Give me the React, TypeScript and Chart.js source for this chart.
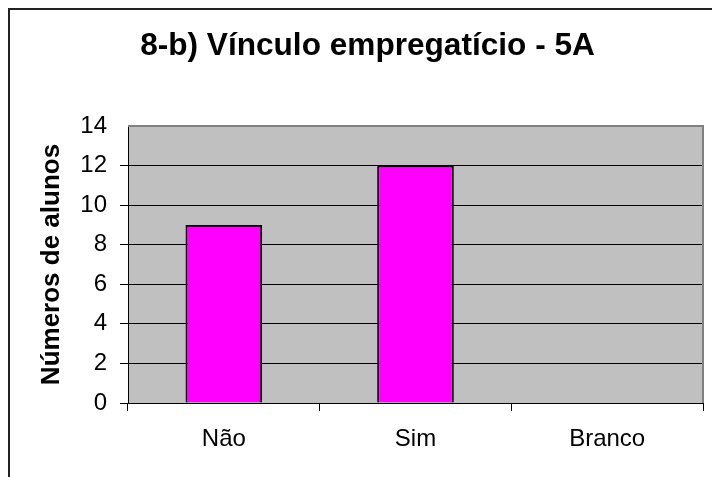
import React, { useEffect, useRef } from "react";
import { Chart, registerables } from "chart.js";

Chart.register(...registerables);

const titleText = "8-b) Vínculo empregatício - 5A";
const yAxisTitle = "Números de alunos";
const categories = ["Não", "Sim", "Branco"];
const values = [9, 12, 0];
const yMin = 0;
const yMax = 14;
const yStep = 2;

const FONT = "'Liberation Sans', Arial, Helvetica, sans-serif";

const decorPlugin = {
  id: "decor",
  beforeDraw(chart: any) {
    const { ctx, chartArea } = chart;
    ctx.save();
    ctx.fillStyle = "#ffffff";
    ctx.fillRect(0, 0, chart.width, chart.height);
    // outer frame (left and top)
    ctx.strokeStyle = "#222222";
    ctx.lineWidth = 2;
    ctx.beginPath();
    ctx.moveTo(9, chart.height);
    ctx.lineTo(9, 9);
    ctx.lineTo(chart.width, 9);
    ctx.stroke();
    // plot background
    ctx.fillStyle = "#C0C0C0";
    ctx.fillRect(chartArea.left, chartArea.top, chartArea.right - chartArea.left, chartArea.bottom - chartArea.top);
    ctx.restore();
  },
  afterDatasetsDraw(chart: any) {
    const { ctx, chartArea } = chart;
    ctx.save();
    ctx.strokeStyle = "#808080";
    ctx.lineWidth = 2;
    ctx.beginPath();
    ctx.moveTo(chartArea.left, chartArea.top);
    ctx.lineTo(chartArea.right, chartArea.top);
    ctx.lineTo(chartArea.right, chartArea.bottom);
    ctx.stroke();
    ctx.restore();
  },
};

export default function App() {
  const ref = useRef<HTMLCanvasElement | null>(null);

  useEffect(() => {
    if (!ref.current) return;
    const chart = new Chart(ref.current, {
      type: "bar",
      data: {
        labels: categories,
        datasets: [
          {
            data: values,
            backgroundColor: "#FF00FF",
            borderColor: "#000000",
            borderWidth: 2,
            barPercentage: 0.4,
            categoryPercentage: 1,
          },
        ],
      },
      options: {
        responsive: false,
        animation: false,
        devicePixelRatio: 1,
        layout: { padding: { left: 32, right: 9, top: 0, bottom: 0 } },
        plugins: {
          legend: { display: false },
          tooltip: { enabled: false },
          title: {
            display: true,
            text: titleText,
            color: "#000000",
            font: { family: FONT, size: 31.6, weight: "bold", lineHeight: 1.2 },
            padding: { top: 27, bottom: 61.1 },
          },
        },
        scales: {
          x: {
            afterFit: (scale: any) => {
              scale.height = 74;
            },
            grid: {
              offset: true,
              drawOnChartArea: false,
              drawTicks: true,
              tickLength: 8,
              color: "#000000",
              lineWidth: 1,
            },
            border: { display: true, color: "#000000", width: 1 },
            ticks: {
              color: "#000000",
              font: { family: FONT, size: 24 },
              padding: 14,
              maxRotation: 0,
            },
          },
          y: {
            min: yMin,
            max: yMax,
            afterFit: (scale: any) => {
              scale.width = 96;
            },
            ticks: {
              stepSize: yStep,
              color: "#000000",
              font: { family: FONT, size: 24 },
              padding: 13,
            },
            grid: {
              drawTicks: true,
              tickLength: 8,
              color: (c: any) => (c.tick && c.tick.value === yMax ? "rgba(0,0,0,0)" : "#000000"),
              lineWidth: 1,
            },
            border: { display: true, color: "#000000", width: 1 },
            title: {
              display: true,
              text: yAxisTitle,
              color: "#000000",
              font: { family: FONT, size: 26, weight: "bold", lineHeight: 1.2 },
              padding: { top: 4.4, bottom: 0 },
            },
          },
        },
      },
      plugins: [decorPlugin],
    });
    return () => chart.destroy();
  }, []);

  return (
    <div style={{ position: "fixed", left: 0, top: 0, width: 712, height: 477, background: "#fff" }}>
      <canvas ref={ref} width={712} height={477} style={{ display: "block" }} />
    </div>
  );
}
